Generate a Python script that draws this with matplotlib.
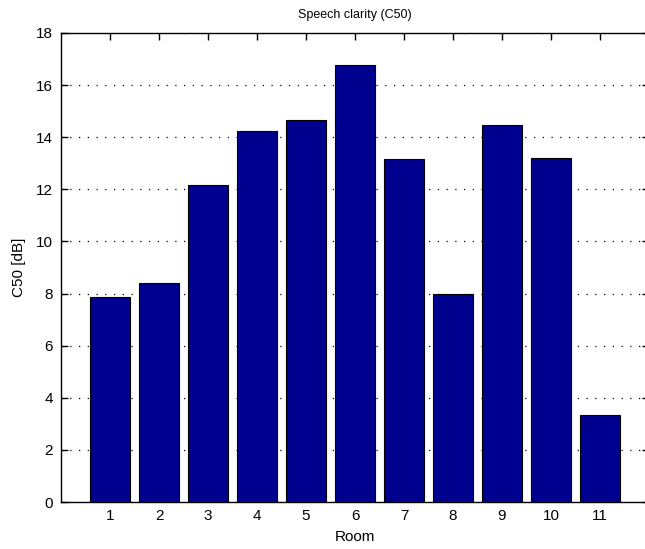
import numpy as np
import matplotlib.pyplot as plt
from matplotlib import font_manager

# Room numbers and measured C50 values
rooms = np.arange(1, 12)
c50 = [7.85, 8.41, 12.15, 14.22, 14.68, 16.76, 13.15, 7.98, 14.46, 13.19, 3.33]

# narrow sans if available, like the old Helvetica screen rendering
names = {f.name for f in font_manager.fontManager.ttflist}
family = 'Liberation Sans Narrow' if 'Liberation Sans Narrow' in names else 'Liberation Sans'
plt.rcParams['font.family'] = [family, 'DejaVu Sans']

fig = plt.figure(figsize=(6.45, 5.49), dpi=100)
ax = fig.add_axes([61 / 645, 47 / 549, 588 / 645, 469 / 549])

ax.bar(rooms, c50, width=0.8, color='#00008F', edgecolor='black', linewidth=0.8, zorder=3)

ax.set_xlim(0, 12)
ax.set_ylim(0, 18)
ax.set_xticks(rooms)
ax.set_yticks(np.arange(0, 19, 2))
ax.tick_params(direction='in', length=5, width=1, labelsize=11,
               top=True, right=True, pad=6)
ax.tick_params(axis='x', pad=5)
ax.yaxis.grid(True, linestyle=(0, (1, 6)), color='black', linewidth=0.9, zorder=0)
for s in ax.spines.values():
    s.set_linewidth(1)

ax.set_title('Speech clarity (C50)', fontsize=9, pad=11)
ax.set_xlabel('Room', fontsize=11, labelpad=5)
ax.set_ylabel('C50 [dB]', fontsize=11, labelpad=7)

fig.savefig('out.png', dpi=100)
